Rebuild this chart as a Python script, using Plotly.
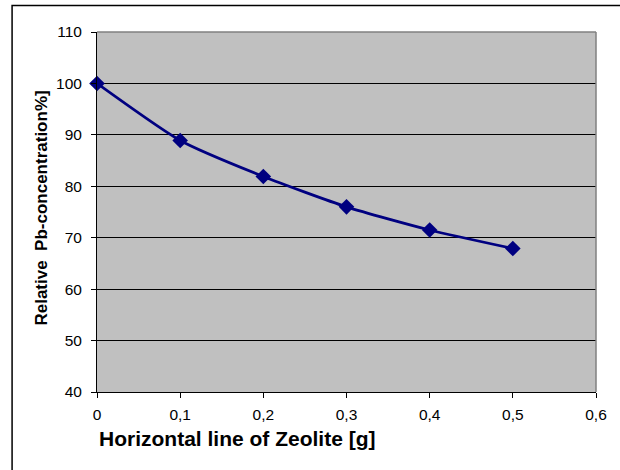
import plotly.graph_objects as go

# Zeolite dose vs. relative lead concentration
zeolite_g = [0.0, 0.1, 0.2, 0.3, 0.4, 0.5]
rel_pb = [100.0, 88.9, 81.9, 76.0, 71.5, 67.9]

x_ticks = [0, 0.1, 0.2, 0.3, 0.4, 0.5, 0.6]
x_ticktext = ["0", "0,1", "0,2", "0,3", "0,4", "0,5", "0,6"]
y_ticks = [40, 50, 60, 70, 80, 90, 100, 110]

W, H = 620, 470
L, R, T, B = 96.5, 24, 32, 78
pw, ph = W - L - R, H - T - B

def px_x(p):
    return (p - L) / pw

def px_y(p):
    return (H - B - p) / ph

fig = go.Figure()
fig.add_trace(go.Scatter(
    x=zeolite_g, y=rel_pb,
    mode="lines+markers",
    line=dict(color="#000080", width=2.75, shape="spline", smoothing=0.6),
    marker=dict(symbol="diamond", size=12, color="#000080"),
    showlegend=False,
    cliponaxis=False,
))

font = "Arial, Liberation Sans, sans-serif"

fig.update_layout(
    width=W, height=H,
    margin=dict(l=L, r=R, t=T, b=B, pad=0),
    paper_bgcolor="white",
    plot_bgcolor="#C0C0C0",
    separators=",.",
    font=dict(family=font, color="black", size=15.5),
    xaxis=dict(
        range=[0, 0.6], tickvals=x_ticks, ticktext=x_ticktext,
        showgrid=False, zeroline=False,
        showline=True, linecolor="black", linewidth=1,
        ticks="outside", ticklen=5, tickcolor="black",
        ticklabelstandoff=3,
        tickfont=dict(size=15.5, family=font),
    ),
    yaxis=dict(
        range=[40, 110], tickvals=y_ticks,
        showgrid=True, gridcolor="black", gridwidth=1,
        zeroline=False,
        showline=True, linecolor="black", linewidth=1,
        ticks="outside", ticklen=5, tickcolor="black",
        ticklabelstandoff=6,
        tickfont=dict(size=15.5, family=font),
    ),
    shapes=[
        # outer chart frame
        dict(type="rect", xref="paper", yref="paper",
             x0=px_x(11.5), x1=px_x(640), y0=px_y(490), y1=px_y(5.5),
             line=dict(color="black", width=1.5), layer="below"),
        # plot area top and right edges
        dict(type="line", xref="paper", yref="paper",
             x0=0, x1=1, y0=1, y1=1, line=dict(color="#808080", width=1.5)),
        dict(type="line", xref="paper", yref="paper",
             x0=1, x1=1, y0=0, y1=1, line=dict(color="#808080", width=1.5)),
    ],
    annotations=[
        dict(text="<b>Relative  Pb-concentration%]</b>",
             xref="paper", yref="paper",
             x=px_x(40), y=px_y(208), textangle=-90,
             showarrow=False, xanchor="center", yanchor="middle",
             font=dict(size=17, family=font)),
        dict(text="<b>Horizontal line of Zeolite [g]</b>",
             xref="paper", yref="paper",
             x=px_x(97), y=px_y(438),
             showarrow=False, xanchor="left", yanchor="middle",
             font=dict(size=21, family=font)),
    ],
)

fig.write_html("out.html")
